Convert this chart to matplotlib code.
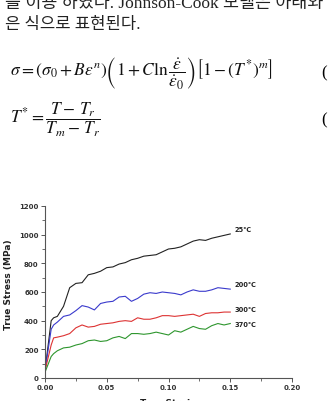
import matplotlib
matplotlib.use("Agg")
import matplotlib.pyplot as plt
from matplotlib.ticker import MultipleLocator

plt.rcParams['mathtext.fontset'] = 'stix'

# page text around the figure
line1 = "을 이용 하였다. Johnson-Cook 모델은 아래와"
line2 = "은 식으로 표현된다."
eq1 = r"$\sigma=\left(\sigma_0+B\epsilon^n\right)\left(1+C\ln\dfrac{\dot{\epsilon}}{\dot{\epsilon}_0}\right)\left[1-\left(T^{*}\right)^m\right]$"
eq2 = r"$T^{*}=\dfrac{T-\,T_r}{T_m-\,T_r}$"

# flow curves
strain = [0.0, 0.005, 0.007, 0.01, 0.015, 0.02, 0.025, 0.03, 0.035, 0.04, 0.045,
          0.05, 0.055, 0.06, 0.065, 0.07, 0.075, 0.08, 0.085, 0.09, 0.095,
          0.10, 0.105, 0.11, 0.115, 0.12, 0.125, 0.13, 0.135, 0.14, 0.145, 0.15]
s25 = [50, 400, 420, 430, 500, 630, 660, 665, 720, 730, 745,
       770, 775, 795, 805, 825, 835, 850, 855, 860, 880,
       900, 905, 915, 935, 955, 965, 960, 975, 985, 995, 1005]
s200 = [50, 340, 370, 390, 430, 440, 470, 505, 495, 475, 520,
        530, 535, 565, 570, 535, 555, 585, 595, 590, 600,
        595, 590, 580, 600, 615, 605, 605, 615, 630, 625, 620]
s300 = [50, 230, 280, 285, 295, 310, 350, 370, 355, 360, 375,
        380, 385, 395, 400, 395, 420, 410, 410, 420, 435,
        435, 430, 435, 440, 445, 430, 450, 455, 455, 460, 460]
s370 = [40, 150, 170, 190, 210, 215, 230, 240, 260, 265, 255,
        260, 280, 290, 275, 310, 310, 305, 310, 320, 310,
        300, 330, 320, 340, 360, 345, 340, 365, 380, 370, 380]
curves = [s25, s200, s300, s370]
labels = ["25℃", "200℃", "300℃", "370℃"]
label_y = [1037, 654, 480, 376]
colors = ['#222222', '#3a3acc', '#dd3333', '#2e962e']

fig = plt.figure(figsize=(3.3, 4.02), dpi=100)
cjk = ['Liberation Serif', 'Noto Sans CJK KR']
fig.text(0.015, 1.0 - 4 / 402, line1, family=cjk, fontsize=12.5, va='center', color='#222222')
fig.text(0.015, 1.0 - 25 / 402, line2, family=cjk, fontsize=12, va='center', color='#222222')
fig.text(0.03, 1.0 - 73 / 402, eq1, fontsize=12.5, va='center', color='#111111')
fig.text(0.03, 1.0 - 120 / 402, eq2, fontsize=12.5, va='center', color='#111111')
fig.text(0.975, 1.0 - 73 / 402, "(", fontsize=12, va='center', family='Liberation Serif')
fig.text(0.975, 1.0 - 120 / 402, "(", fontsize=12, va='center', family='Liberation Serif')

ax = fig.add_axes([45 / 330, 23 / 402, 247 / 330, 172 / 402])
for ys, c in zip(curves, colors):
    ax.plot(strain, ys, color=c, lw=0.8)
for lab, y in zip(labels, label_y):
    ax.text(0.1535, y, lab, fontsize=4.8, fontweight='bold', va='center',
            family=['DejaVu Sans', 'Noto Sans CJK KR'], color='#222222')

ax.set_xlim(0, 0.20)
ax.set_ylim(0, 1200)
ax.xaxis.set_major_locator(MultipleLocator(0.05))
ax.xaxis.set_minor_locator(MultipleLocator(0.025))
ax.yaxis.set_major_locator(MultipleLocator(200))
ax.yaxis.set_minor_locator(MultipleLocator(100))
ax.xaxis.set_major_formatter(plt.FuncFormatter(lambda v, p: f"{v:.2f}"))
for s in ['top', 'right']:
    ax.spines[s].set_visible(False)
for s in ['left', 'bottom']:
    ax.spines[s].set_color('#555555')
    ax.spines[s].set_linewidth(0.8)
ax.tick_params(which='major', length=3, width=0.7, color='#555555', labelsize=5, pad=1.5)
ax.tick_params(which='minor', length=2, width=0.6, color='#555555')
for t in ax.get_xticklabels() + ax.get_yticklabels():
    t.set_fontweight('bold')
    t.set_color('#333333')

fig.text(9 / 330, 1.0 - 285 / 402, "True Stress (MPa)", rotation=90, fontsize=6.5,
         fontweight='bold', ha='center', va='center', color='#222222')
fig.text(168 / 330, 1.0 - 404 / 402, "True Strain", fontsize=6.5,
         fontweight='bold', ha='center', va='center', color='#222222')

fig.savefig("out.png", dpi=100)
